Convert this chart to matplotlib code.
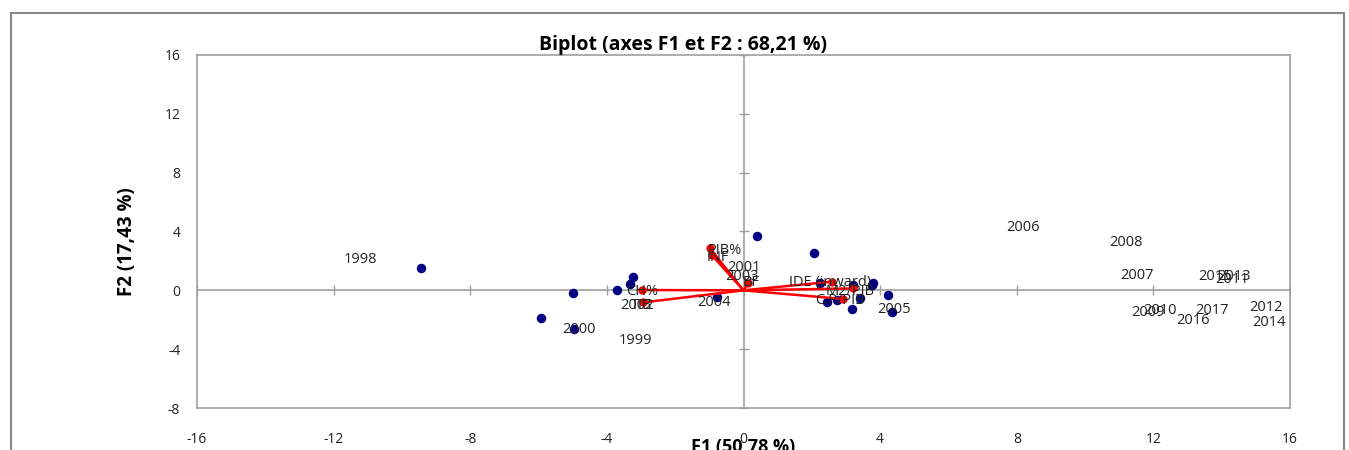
import matplotlib
matplotlib.use("Agg")
import matplotlib.pyplot as plt
from matplotlib.patches import Rectangle

plt.rcParams['font.family'] = ['Open Sans', 'DejaVu Sans']
plt.rcParams['axes.unicode_minus'] = False

# observations (years)
obs_x = [-9.44, -4.98, -5.94, -4.96, -3.71, -3.32, -3.23, -0.78, 0.40, 2.07,
         2.24, 2.44, 2.73, 3.17, 3.21, 3.41, 3.75, 3.80, 4.24, 4.34]
obs_y = [1.52, -0.16, -1.90, -2.63, 0.02, 0.43, 0.93, -0.48, 3.71, 2.51,
         0.47, -0.77, -0.66, -1.27, 0.36, -0.54, 0.36, 0.47, -0.32, -1.45]

# year labels and where they sit
years = ["1998", "1999", "2000", "2001", "2002", "2003", "2004", "2005", "2006", "2007",
         "2008", "2009", "2010", "2011", "2012", "2013", "2014", "2015", "2016", "2017"]
year_lx = [-11.23, -3.15, -4.82, 0.01, -3.12, -0.04, -0.86, 4.40, 8.18, 11.52,
           11.19, 11.84, 12.19, 14.30, 15.29, 14.36, 15.38, 13.80, 13.16, 13.72]
year_ly = [2.11, -3.39, -2.65, 1.58, -1.00, 0.97, -0.80, -1.27, 4.30, 1.04,
           3.22, -1.54, -1.34, 0.77, -1.20, 0.97, -2.20, 0.97, -2.02, -1.34]

# variables (arrows)
variables = ["PIB%", "INF", "BF", "CH%", "TIB", "IDE (inward)", "M2/PIB", "C.P/PIB"]
var_x = [-0.98, -0.93, 0.14, -2.98, -2.93, 2.58, 3.21, 2.92]
var_y = [2.85, 2.40, 0.48, 0.02, -0.82, 0.59, 0.13, -0.59]
var_lx = [-0.54, -0.75, 0.22, -2.97, -2.97, 2.53, 3.12, 2.82]
var_ly = [2.72, 2.20, 0.50, -0.10, -1.00, 0.50, -0.10, -0.66]

ticks_x = [-16, -12, -8, -4, 0, 4, 8, 12, 16]
ticks_y = [-8, -4, 0, 4, 8, 12, 16]

fig = plt.figure(figsize=(13.49, 4.5), dpi=100)
fig.patches.append(Rectangle((11 / 1349, -0.1), 1333 / 1349, 1.1 - 13 / 450,
                             transform=fig.transFigure, fill=False,
                             edgecolor='#888888', linewidth=1.5))
ax = fig.add_axes([197 / 1349, 42 / 450, 1093 / 1349, 353 / 450])
ax.set_xlim(-16, 16)
ax.set_ylim(-8, 16)

for s in ax.spines.values():
    s.set_color('#a0a0a0')
    s.set_linewidth(1.2)

ax.axhline(0, color='#a0a0a0', lw=1.2, zorder=1)
ax.axvline(0, color='#a0a0a0', lw=1.2, zorder=1)
ax.scatter(ticks_x, [0] * len(ticks_x), marker='|', s=60, color='#a0a0a0', lw=1, zorder=1)
ax.scatter([0] * len(ticks_y), ticks_y, marker='_', s=60, color='#a0a0a0', lw=1, zorder=1)

ax.set_xticks(ticks_x)
ax.set_yticks(ticks_y)
ax.tick_params(length=0, labelsize=10, colors='#222222')
ax.tick_params(axis='x', pad=17)
ax.tick_params(axis='y', pad=12)

ax.scatter(obs_x, obs_y, s=34, color='#000080', zorder=3)

for i in range(len(variables)):
    ax.plot([0, var_x[i]], [0, var_y[i]], color='#ff0000', lw=1.8, zorder=4)
    ax.plot(var_x[i], var_y[i], marker='o', ms=5, color='#ff0000', zorder=4)
    ax.text(var_lx[i], var_ly[i], variables[i], fontsize=10.5, ha='center', va='center',
            color='#222222', zorder=5)

for i in range(len(years)):
    ax.text(year_lx[i], year_ly[i], years[i], fontsize=10.5, ha='center', va='center',
            color='#222222', zorder=5)

ax.set_title("Biplot (axes F1 et F2 : 68,21 %)", fontsize=14, fontweight='bold',
             x=0.445, pad=3)
ax.set_xlabel("F1 (50,78 %)", fontsize=13, fontweight='bold', labelpad=-6)
ax.set_ylabel("F2 (17,43 %)", fontsize=13.5, fontweight='bold')
ax.yaxis.set_label_coords(-0.055, 0.47)

fig.savefig("out.png", dpi=100)
